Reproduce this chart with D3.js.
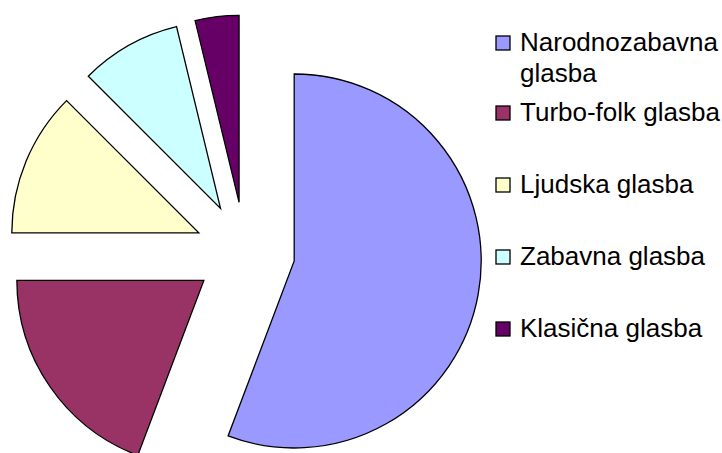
<html>
<head>
<meta charset="utf-8">
<style>
  body { margin: 0; background: #fff; }
  svg { display: block; }
  text { font-family: "Liberation Sans", Arial, sans-serif; fill: #000; }
</style>
</head>
<body>
<svg id="chart" width="722" height="453"></svg>
<script src="https://d3js.org/d3.v7.min.js"></script>
<script>
  // data (shares in %)
  let categories = ["Narodnozabavna glasba", "Turbo-folk glasba", "Ljudska glasba", "Zabavna glasba", "Klasična glasba"]
  let values = [55.75, 19.25, 12.5, 8.72, 3.78]
  let colors = ["#9999FF", "#993366", "#FFFFCC", "#CCFFFF", "#660066"]

  let svg = d3.select("#chart")
  let radius = 187
  let explode = 50

  let color = d3.scaleOrdinal().domain(categories).range(colors)

  let pie = d3.pie().sort(null)
  let arcs = pie(values)
  let arc = d3.arc().innerRadius(0).outerRadius(radius)

  // pie body, each slice pulled out along its middle angle
  let body = svg.append("g").attr("transform", "translate(245,252)")
  body.selectAll("path").data(arcs)
    .enter()
    .append("path")
    .attr("d", arc)
    .attr("fill", (d, i) => color(categories[i]))
    .attr("stroke", "#000")
    .attr("stroke-width", 1.3)
    .attr("stroke-linejoin", "miter")
    .attr("transform", d => {
      let mid = (d.startAngle + d.endAngle) / 2
      return "translate(" + (Math.sin(mid) * explode) + "," + (-Math.cos(mid) * explode) + ")"
    })

  // legend
  let yScale = d3.scaleLinear().domain([1, 4]).range([113, 329])
  let legend = svg.append("g")
  let items = legend.selectAll("g").data(categories)
    .enter()
    .append("g")
    .attr("transform", (d, i) => "translate(496," + (i == 0 ? 43 : yScale(i)) + ")")

  items.append("rect")
    .attr("x", 0).attr("y", -7)
    .attr("width", 14).attr("height", 14)
    .attr("fill", d => color(d))
    .attr("stroke", "#000")
    .attr("stroke-width", 1.3)

  items.each(function(d, i) {
    let t = d3.select(this).append("text")
      .attr("x", 24)
      .attr("y", 8)
      .style("font-size", "26px")
    if (i == 0) {
      let parts = d.split(" ")
      t.append("tspan").attr("x", 24).attr("y", 8).text(parts[0])
      t.append("tspan").attr("x", 24).attr("dy", 31).text(parts[1])
    } else {
      t.text(d)
    }
  })
</script>
</body>
</html>
